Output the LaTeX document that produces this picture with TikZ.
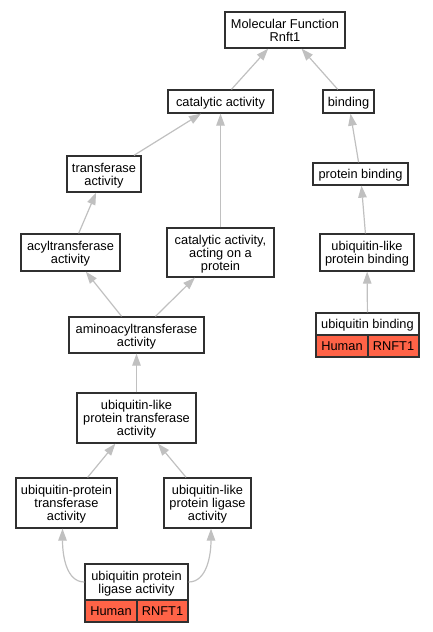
\documentclass[tikz,border=0pt]{standalone}
\usepackage{fontspec}
\setmainfont{Liberation Sans}
\usetikzlibrary{arrows.meta,calc}
\definecolor{edgec}{HTML}{C0C0C0}
\definecolor{boxc}{HTML}{303030}
\definecolor{redc}{HTML}{FF6347}
\begin{document}
\begin{tikzpicture}[x=1pt,y=-1pt,
  box/.style={draw=boxc, line width=1.3pt, fill=white, inner sep=0pt, align=center,
    font=\fontsize{12.8}{13}\selectfont, text depth=0pt},
  cell/.style={box, fill=redc},
  edge/.style={draw=edgec, line width=1.2pt, -{Triangle[length=12pt,width=8.5pt,fill=edgec]}}]
\useasboundingbox (0,0) rectangle (433,632);
\node[box, minimum width=120pt, minimum height=36pt] (mf) at (285,30) {Molecular Function\\Rnft1};
\node[box, minimum width=105pt, minimum height=23pt] (cat) at (220.5,101.5) {catalytic activity};
\node[box, minimum width=51pt, minimum height=23pt] (bind) at (348.5,101.5) {binding};
\node[box, minimum width=74pt, minimum height=36pt] (tr) at (104,174) {transferase\\activity};
\node[box, minimum width=95pt, minimum height=22pt] (pb) at (360.5,174) {protein binding};
\node[box, minimum width=99pt, minimum height=37pt] (acyl) at (70.5,252.5) {acyltransferase\\activity};
\node[box, minimum width=107pt, minimum height=49pt] (cap) at (220.5,252.5) {catalytic activity,\\acting on a\\protein};
\node[box, minimum width=94pt, minimum height=37pt] (ulpb) at (367,252.5) {ubiquitin-like\\protein binding};
\node[box, minimum width=103pt, minimum height=22pt] (ub) at (367.5,324) {ubiquitin binding};
\node[cell, minimum width=52pt, minimum height=22pt] (ubh) at (342,346) {Human};
\node[cell, minimum width=51pt, minimum height=22pt] (ubr) at (393.5,346) {RNFT1};
\node[box, minimum width=135pt, minimum height=36pt] (amino) at (136.5,335) {aminoacyltransferase\\activity};
\node[box, minimum width=119pt, minimum height=50pt] (ulpt) at (136.5,418) {ubiquitin-like\\protein transferase\\activity};
\node[box, minimum width=101pt, minimum height=50pt] (upt) at (66.5,503) {ubiquitin-protein\\transferase\\activity};
\node[box, minimum width=87pt, minimum height=50pt] (ulpl) at (207.5,503) {ubiquitin-like\\protein ligase\\activity};
\node[box, minimum width=103pt, minimum height=36pt] (upl) at (136.5,582) {ubiquitin protein\\ligase activity};
\node[cell, minimum width=52pt, minimum height=22pt] (uplh) at (111,611) {Human};
\node[cell, minimum width=51pt, minimum height=22pt] (uplr) at (162.5,611) {RNFT1};
\draw[edge] (cat) -- (mf);
\draw[edge] (bind) -- (mf);
\draw[edge] (tr) -- (cat);
\draw[edge] (cap) -- (cat);
\draw[edge] (pb) -- (bind);
\draw[edge] (acyl) -- (tr);
\draw[edge] (ulpb) -- (pb);
\draw[edge] (ub) -- (ulpb);
\draw[edge] (amino) -- (acyl);
\draw[edge] (amino) -- (cap);
\draw[edge] (ulpt) -- (amino);
\draw[edge] (upt) -- (ulpt);
\draw[edge] (ulpl) -- (ulpt);
\draw[edge] (upl.west) .. controls +(-18,0) and +(0,27) .. ($(upt.south)+(-4,0)$);
\draw[edge] (upl.east) .. controls +(18,0) and +(0,27) .. ($(ulpl.south)+(3.5,0)$);
\end{tikzpicture}
\end{document}
